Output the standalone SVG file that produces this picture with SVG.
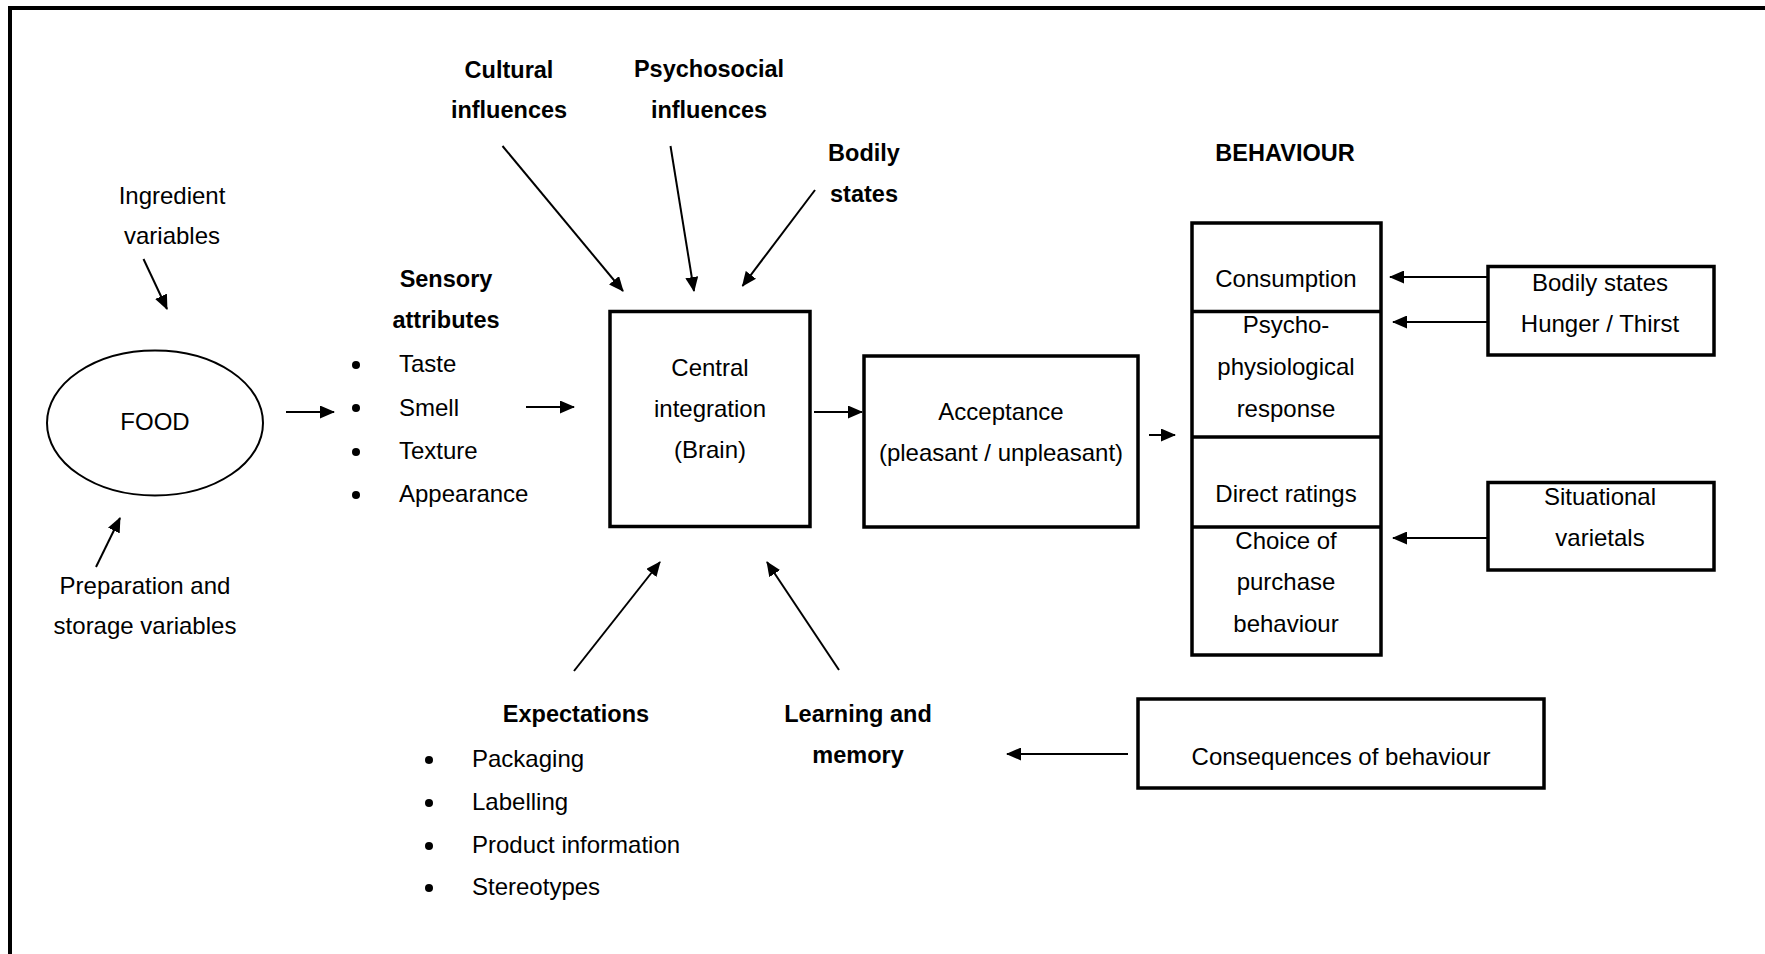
<svg xmlns="http://www.w3.org/2000/svg" width="1765" height="954" viewBox="0 0 1765 954">
<style>
text{font-family:"Liberation Sans",Arial,sans-serif;font-size:24px;fill:#000}
.c{text-anchor:middle}
.b{font-weight:bold;font-size:23.5px}
.box{fill:#fff;stroke:#000;stroke-width:3.5}
.ln{stroke:#000;stroke-width:2;fill:none}
.dot{fill:#000}
</style>
<defs>
<marker id="ah" markerUnits="userSpaceOnUse" viewBox="0 0 15 13" markerWidth="15" markerHeight="13" refX="14" refY="6.5" orient="auto">
<path d="M0,0 L15,6.5 L0,13 Z" fill="#000"/>
</marker>
</defs>
<rect width="1765" height="954" fill="#fff"/>
<path d="M10,954 L10,8 L1765,8" fill="none" stroke="#000" stroke-width="4"/>

<g id="food">
<ellipse cx="155" cy="423" rx="108" ry="72.5" fill="#fff" stroke="#000" stroke-width="2"/>
<text class="c" x="155" y="430">FOOD</text>
</g>
<g id="ingredient">
<text class="c" x="172" y="204">Ingredient</text>
<text class="c" x="172" y="244">variables</text>
</g>
<g id="preparation">
<text class="c" x="145" y="594">Preparation and</text>
<text class="c" x="145" y="634">storage variables</text>
</g>
<g id="sensory">
<text class="c b" x="446" y="287">Sensory</text>
<text class="c b" x="446" y="328">attributes</text>
<circle class="dot" cx="356" cy="365" r="4"/>
<circle class="dot" cx="356" cy="408" r="4"/>
<circle class="dot" cx="356" cy="452" r="4"/>
<circle class="dot" cx="356" cy="495" r="4"/>
<text x="399" y="372">Taste</text>
<text x="399" y="416">Smell</text>
<text x="399" y="459">Texture</text>
<text x="399" y="502">Appearance</text>
</g>
<g id="cultural">
<text class="c b" x="509" y="78">Cultural</text>
<text class="c b" x="509" y="118">influences</text>
</g>
<g id="psychosocial">
<text class="c b" x="709" y="77">Psychosocial</text>
<text class="c b" x="709" y="118">influences</text>
</g>
<g id="bodily">
<text class="c b" x="864" y="161">Bodily</text>
<text class="c b" x="864" y="202">states</text>
</g>
<g id="central">
<rect class="box" x="610" y="311.5" width="200" height="215"/>
<text class="c" x="710" y="376">Central</text>
<text class="c" x="710" y="417">integration</text>
<text class="c" x="710" y="458">(Brain)</text>
</g>
<g id="acceptance">
<rect class="box" x="864" y="356" width="274" height="171"/>
<text class="c" x="1001" y="420">Acceptance</text>
<text class="c" x="1001" y="461">(pleasant / unpleasant)</text>
</g>
<g id="behaviour">
<text class="c b" x="1285" y="161">BEHAVIOUR</text>
<rect class="box" x="1192" y="223" width="189" height="432"/>
<line x1="1192" y1="311.5" x2="1381" y2="311.5" stroke="#000" stroke-width="3.5"/>
<line x1="1192" y1="437" x2="1381" y2="437" stroke="#000" stroke-width="3.5"/>
<line x1="1192" y1="527" x2="1381" y2="527" stroke="#000" stroke-width="3.5"/>
<text class="c" x="1286" y="287">Consumption</text>
<text class="c" x="1286" y="333">Psycho-</text>
<text class="c" x="1286" y="375">physiological</text>
<text class="c" x="1286" y="417">response</text>
<text class="c" x="1286" y="502">Direct ratings</text>
<text class="c" x="1286" y="549">Choice of</text>
<text class="c" x="1286" y="590">purchase</text>
<text class="c" x="1286" y="632">behaviour</text>
</g>
<g id="bodily-states">
<rect class="box" x="1488" y="266.5" width="226" height="88.5"/>
<text class="c" x="1600" y="291">Bodily states</text>
<text class="c" x="1600" y="332">Hunger / Thirst</text>
</g>
<g id="situational">
<rect class="box" x="1488" y="482.5" width="226" height="87.5"/>
<text class="c" x="1600" y="505">Situational</text>
<text class="c" x="1600" y="546">varietals</text>
</g>
<g id="consequences">
<rect class="box" x="1138" y="699" width="406" height="89"/>
<text class="c" x="1341" y="765">Consequences of behaviour</text>
</g>
<g id="expectations">
<text class="c b" x="576" y="722">Expectations</text>
<circle class="dot" cx="429" cy="760" r="4"/>
<circle class="dot" cx="429" cy="803" r="4"/>
<circle class="dot" cx="429" cy="846" r="4"/>
<circle class="dot" cx="429" cy="888" r="4"/>
<text x="472" y="767">Packaging</text>
<text x="472" y="810">Labelling</text>
<text x="472" y="853">Product information</text>
<text x="472" y="895">Stereotypes</text>
</g>
<g id="learning">
<text class="c b" x="858" y="722">Learning and</text>
<text class="c b" x="858" y="763">memory</text>
</g>

<g id="connectors" class="ln" marker-end="url(#ah)">
<line class="ln" x1="143.5" y1="259" x2="167" y2="309" marker-end="url(#ah)"/>
<line class="ln" x1="96" y1="567" x2="120" y2="518" marker-end="url(#ah)"/>
<line class="ln" x1="286" y1="412" x2="334" y2="412" marker-end="url(#ah)"/>
<line class="ln" x1="526" y1="407" x2="574" y2="407" marker-end="url(#ah)"/>
<line class="ln" x1="502.5" y1="146" x2="623" y2="291" marker-end="url(#ah)"/>
<line class="ln" x1="670.5" y1="146" x2="694" y2="291" marker-end="url(#ah)"/>
<line class="ln" x1="815" y1="190" x2="742.5" y2="286" marker-end="url(#ah)"/>
<line class="ln" x1="814" y1="412" x2="862" y2="412" marker-end="url(#ah)"/>
<line class="ln" x1="1149" y1="435" x2="1175" y2="435" marker-end="url(#ah)"/>
<line class="ln" x1="1488" y1="277" x2="1390" y2="277" marker-end="url(#ah)"/>
<line class="ln" x1="1488" y1="322" x2="1393" y2="322" marker-end="url(#ah)"/>
<line class="ln" x1="1488" y1="538" x2="1393" y2="538" marker-end="url(#ah)"/>
<line class="ln" x1="574" y1="671" x2="660" y2="562" marker-end="url(#ah)"/>
<line class="ln" x1="839" y1="670" x2="767" y2="562" marker-end="url(#ah)"/>
<line class="ln" x1="1128" y1="754" x2="1007" y2="754" marker-end="url(#ah)"/>
</g>
</svg>
